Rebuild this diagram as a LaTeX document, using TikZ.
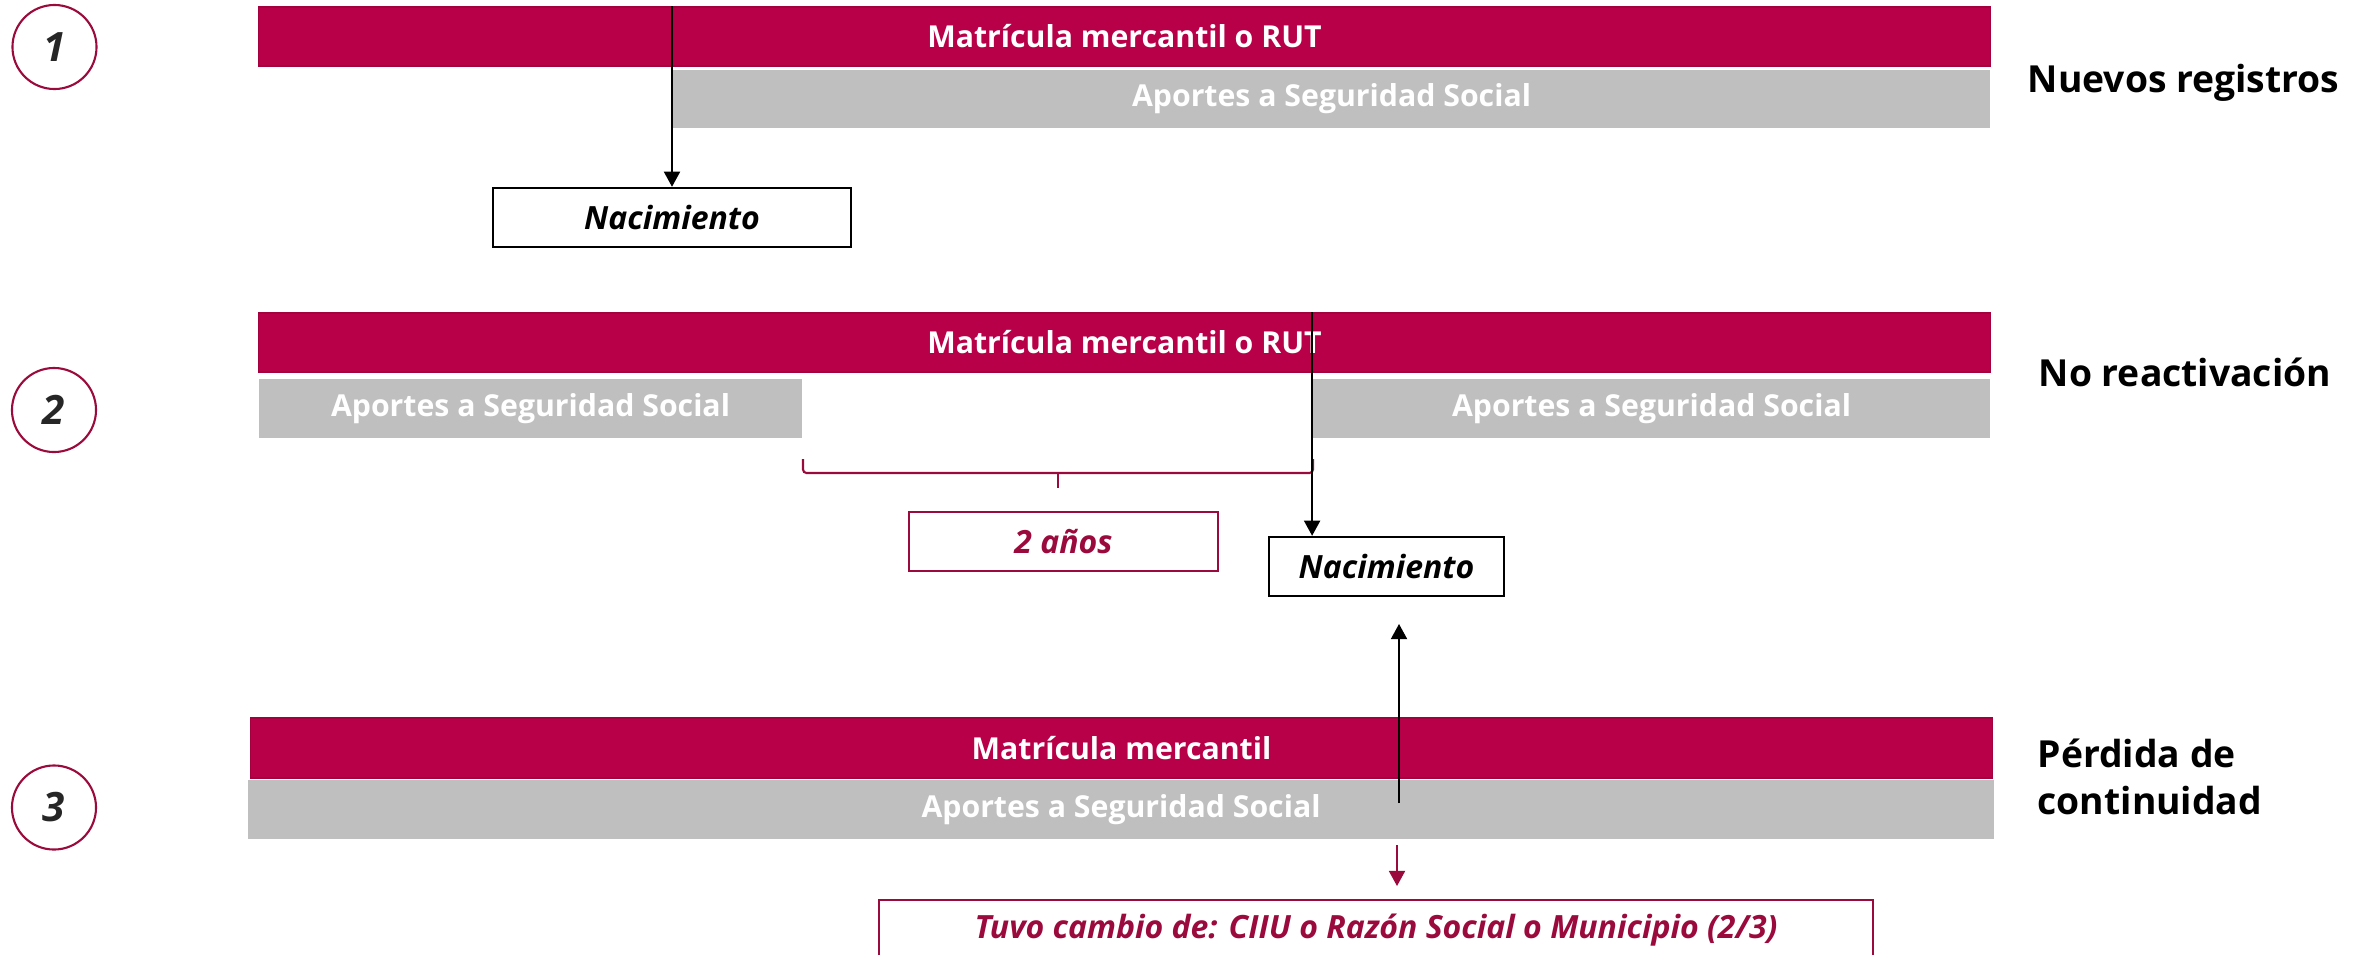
\documentclass[tikz,border=0pt]{standalone}
\usepackage{fontspec}
\setmainfont{Open Sans}
\usepackage{tikz}
\usetikzlibrary{arrows.meta, positioning}
\definecolor{barcolor}{RGB}{184, 0, 72}
\definecolor{baredge}{RGB}{165, 0, 62}
\definecolor{graycolor}{RGB}{191, 191, 191}
\definecolor{winecolor}{RGB}{155, 10, 60}
\definecolor{numcolor}{RGB}{38, 38, 38}

\tikzset{
    redbar/.style={draw=baredge, line width=0.5pt, fill=barcolor, text=white, inner sep=0pt, font=\fontsize{8.6}{10}\selectfont\bfseries},
    graybar/.style={fill=graycolor, text=white, inner sep=0pt, font=\fontsize{8.6}{10}\selectfont\bfseries},
    eventbox/.style={draw=black, line width=0.7pt, fill=white, inner sep=0pt, minimum height=0.59cm, font=\fontsize{9.1}{10}\selectfont\bfseries\itshape},
    notebox/.style={draw=winecolor, line width=0.6pt, fill=white, text=winecolor, inner sep=0pt, minimum height=0.59cm, font=\fontsize{9.1}{10}\selectfont\bfseries\itshape},
    stepnum/.style={circle, draw=winecolor, line width=0.6pt, minimum size=0.84cm, inner sep=0pt, text=numcolor, font=\fontsize{11.5}{12}\selectfont\bfseries\itshape},
    caselabel/.style={anchor=west, align=left, inner sep=0pt, font=\fontsize{10.6}{13.4}\selectfont\bfseries},
    linkarrow/.style={-{Triangle[length=4.3pt, width=4.6pt]}, line width=0.4pt},
    gapbrace/.style={draw=winecolor, line width=0.6pt, rounded corners=1pt}
}

\begin{document}
\begin{tikzpicture}[x=0.01cm, y=-0.01cm]
    \useasboundingbox (0,0) rectangle (2364,954);
    \clip (0,0) rectangle (2364,954);

    % Case 1: new records
    \node[stepnum] (num1) at (54.5, 47) {1};
    \node[redbar, minimum width=17.31cm, minimum height=0.59cm] (mat1) at (1124.5, 36.5) {Matrícula mercantil o RUT};
    \node[graybar, minimum width=13.17cm, minimum height=0.58cm] (ss1) at (1331.5, 99) {Aportes a Seguridad Social};
    \node[eventbox, minimum width=3.58cm] (nac1) at (672, 217.5) {Nacimiento};
    \draw[linkarrow] (mat1.north -| nac1.north) -- (nac1.north);
    \node[caselabel] (lab1) at (2027, 83) {Nuevos registros};

    % Case 2: no reactivation
    \node[stepnum] (num2) at (54, 410) {2};
    \node[redbar, minimum width=17.31cm, minimum height=0.59cm] (mat2) at (1124.5, 342.5) {Matrícula mercantil o RUT};
    \node[graybar, minimum width=5.43cm, minimum height=0.59cm] (ss2a) at (530.5, 408.5) {Aportes a Seguridad Social};
    \node[graybar, minimum width=6.77cm, minimum height=0.59cm] (ss2b) at (1651.5, 408.5) {Aportes a Seguridad Social};
    \draw[gapbrace] (803, 459) -- (803, 473) -- (1313, 473) -- (1313, 459);
    \draw[gapbrace] (1058, 473) -- (1058, 488);
    \node[notebox, minimum width=3.09cm] (gap2) at (1063.5, 541.5) {2 años};
    \node[eventbox, minimum width=2.35cm] (nac2) at (1386.5, 566.5) {Nacimiento};
    \draw[linkarrow] (mat2.north -| ss2b.west) -- (nac2.north -| ss2b.west);
    \node[caselabel] (lab2) at (2038, 372) {No reactivación};

    % Case 3: loss of continuity
    \node[stepnum] (num3) at (54, 807.5) {3};
    \node[redbar, minimum width=17.41cm, minimum height=0.60cm] (mat3) at (1121.5, 748) {Matrícula mercantil};
    \node[graybar, minimum width=17.44cm, minimum height=0.59cm] (ss3) at (1121, 809.5) {Aportes a Seguridad Social};
    \coordinate (up0) at (1399, 803);
    \coordinate (up1) at (1399, 624);
    \draw[linkarrow] (up0) -- (up1);
    \node[notebox, minimum width=9.94cm, minimum height=0.60cm] (chg3) at (1376, 930) {Tuvo cambio de: CIIU o Razón Social o Municipio (2/3)};
    \coordinate (dn0) at (1397, 845);
    \coordinate (dn1) at (1397, 886);
    \draw[linkarrow, draw=winecolor, fill=winecolor] (dn0) -- (dn1);
    \node[caselabel] (lab3) at (2037, 776.5) {Pérdida de\\continuidad};
\end{tikzpicture}
\end{document}
